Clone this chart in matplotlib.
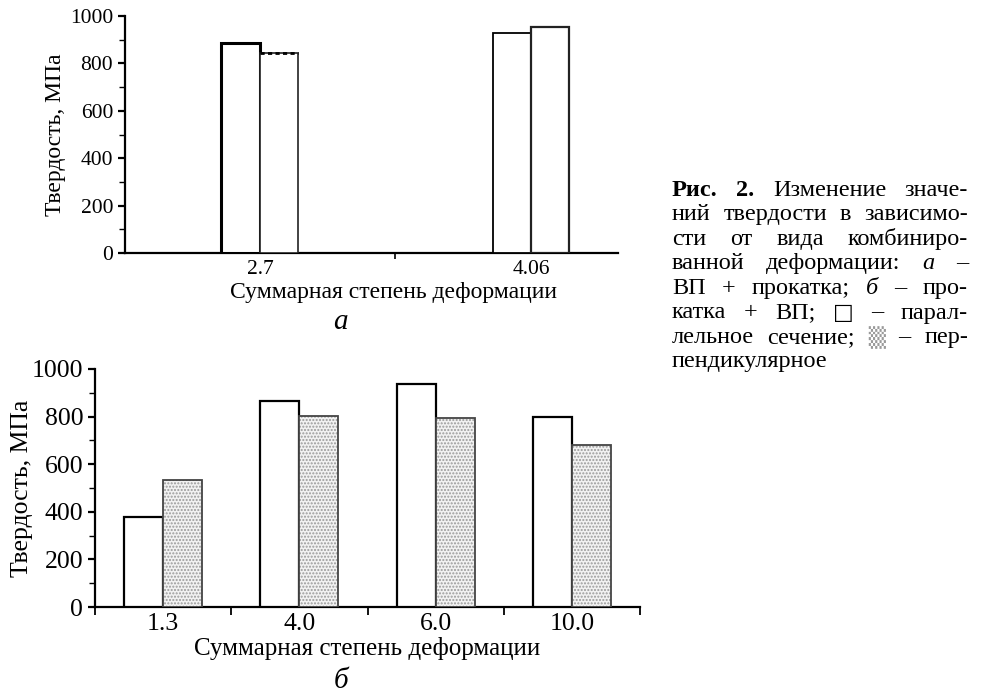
import matplotlib
matplotlib.use("Agg")
import matplotlib.pyplot as plt
import numpy as np
from matplotlib.ticker import MultipleLocator, FixedLocator

# ---- data -------------------------------------------------------------
cats_a = ["2.7", "4.06"]
par_a = [886, 928]          # parallel section, ВП + прокатка
perp_a = [844, 954]         # perpendicular section, ВП + прокатка

cats_b = ["1.3", "4.0", "6.0", "10.0"]
par_b = [378, 866, 937, 798]    # parallel section, прокатка + ВП
perp_b = [534, 803, 794, 681]   # perpendicular section, прокатка + ВП

ylabel = "Твердость, МПа"
xlabel = "Суммарная степень деформации"

W, H = 984, 693
SERIF = ["Liberation Serif", "DejaVu Serif"]
plt.rcParams["font.family"] = SERIF

fig = plt.figure(figsize=(W / 100, H / 100), dpi=100)


def px_axes(l, r, t, b):
    return fig.add_axes([l / W, 1 - b / H, (r - l) / W, (b - t) / H])


def style_axes(ax, lw):
    for s in ("top", "right"):
        ax.spines[s].set_visible(False)
    for s in ("left", "bottom"):
        ax.spines[s].set_linewidth(lw)
    ax.set_ylim(0, 1000)
    ax.yaxis.set_major_locator(MultipleLocator(200))
    ax.yaxis.set_minor_locator(MultipleLocator(100))
    ax.tick_params(axis="y", which="major", direction="out", length=5, width=lw)
    ax.tick_params(axis="y", which="minor", direction="out", length=4, width=1)


# ---- panel а ------------------------------------------------------------
ax1 = px_axes(125, 618, 16, 253)
style_axes(ax1, 1.6)
x1 = np.arange(len(cats_a))
bw1 = 0.142
ax1.bar(x1 - bw1 / 2, par_a, bw1, facecolor="white", edgecolor="black",
        linewidth=[2.2, 1.3], zorder=3)
perp_bars = ax1.bar(x1 + bw1 / 2, perp_a, bw1, facecolor="white",
                    edgecolor="#222222", linewidth=[1.2, 1.6], zorder=3)
# dotted top edge on the first perpendicular bar
p0 = perp_bars[0]
ax1.plot([p0.get_x(), p0.get_x() + p0.get_width()], [perp_a[0], perp_a[0]],
         color="black", lw=2.0, ls=(0, (1.5, 1.2)), zorder=4,
         solid_capstyle="butt")
ax1.set_xlim(-0.498, 1.321)
ax1.xaxis.set_major_locator(FixedLocator([0.5]))
ax1.xaxis.set_minor_locator(FixedLocator(x1))
ax1.set_xticklabels([""])
ax1.set_xticklabels(cats_a, minor=True)
ax1.tick_params(axis="x", which="major", direction="out", length=4, width=1.2)
ax1.tick_params(axis="x", which="minor", length=0, pad=5)
for lab in ax1.get_yticklabels() + ax1.get_xticklabels(minor=True):
    lab.set_fontsize(15.5)
fig.text(55 / W, 1 - 135 / H, ylabel, rotation=90, ha="center", va="center",
         fontsize=17)
fig.text(394 / W, 1 - 293 / H, xlabel, ha="center", va="center", fontsize=17)
fig.text(340 / W, 1 - 322 / H, "а", ha="center", va="center", fontsize=21,
         style="italic")

# ---- panel б ------------------------------------------------------------
ax2 = px_axes(95, 640, 369, 607)
style_axes(ax2, 1.6)
x2 = np.arange(len(cats_b))
bw2 = 0.287
ax2.bar(x2 - bw2 / 2, par_b, bw2, facecolor="white", edgecolor="black",
        linewidth=1.6, zorder=3)
ax2.bar(x2 + bw2 / 2, perp_b, bw2, facecolor="#f2f2f2", edgecolor="#9a9a9a",
        hatch=".....", linewidth=0, zorder=3)
ax2.bar(x2 + bw2 / 2, perp_b, bw2, fill=False, edgecolor="#444444",
        linewidth=1.3, zorder=4)
ax2.set_xlim(-0.5, 3.5)
ax2.xaxis.set_major_locator(FixedLocator(np.arange(-0.5, 3.6, 1.0)))
ax2.xaxis.set_minor_locator(FixedLocator(x2))
ax2.set_xticklabels([""] * 5)
ax2.set_xticklabels(cats_b, minor=True)
ax2.tick_params(axis="x", which="major", direction="out", length=6, width=1.3)
ax2.tick_params(axis="x", which="minor", length=0, pad=4)
for lab in ax2.get_yticklabels() + ax2.get_xticklabels(minor=True):
    lab.set_fontsize(18.5)
fig.text(22 / W, 1 - 488 / H, ylabel, rotation=90, ha="center", va="center",
         fontsize=18.5)
fig.text(367 / W, 1 - 648 / H, xlabel, ha="center", va="center", fontsize=18)
fig.text(341 / W, 1 - 681 / H, "б", ha="center", va="center", fontsize=21,
         style="italic")

# ---- figure caption (justified block) ------------------------------------
CAP_FS = 17.5
cap_lines = [
    [("Рис.", "b"), ("2.", "b"), ("Изменение", ""), ("значе-", "")],
    [("ний", ""), ("твердости", ""), ("в", ""), ("зависимо-", "")],
    [("сти", ""), ("от", ""), ("вида", ""), ("комбиниро-", "")],
    [("ванной", ""), ("деформации:", ""), ("а", "i"), ("–", "")],
    [("ВП", ""), ("+", ""), ("прокатка;", ""), ("б", "i"), ("–", ""), ("про-", "")],
    [("катка", ""), ("+", ""), ("ВП;", ""), ("□", "s"), ("–", ""), ("парал-", "")],
    [("лельное", ""), ("сечение;", ""), ("▒", "g"), ("–", ""), ("пер-", "")],
    [("пендикулярное", "")],
]
cap_left, cap_right = 672, 968
cap_top, cap_step = 196, 24.5

renderer = fig.canvas.get_renderer()


def word_kw(kind):
    kw = dict(fontsize=CAP_FS, family=SERIF)
    if kind == "b":
        kw["weight"] = "bold"
    elif kind == "i":
        kw["style"] = "italic"
    elif kind == "s":
        kw["family"] = ["DejaVu Sans"]
        kw["fontsize"] = CAP_FS * 0.9
    elif kind == "g":
        kw["family"] = ["DejaVu Sans"]
        kw["color"] = "#9a9a9a"
        kw["fontsize"] = CAP_FS * 0.9
    return kw


for i, line in enumerate(cap_lines):
    yb = cap_top + i * cap_step
    widths = []
    for word, kind in line:
        t = fig.text(0, 0, word, **word_kw(kind))
        widths.append(t.get_window_extent(renderer).width)
        t.remove()
    if len(line) > 1 and i < len(cap_lines) - 1:
        gap = (cap_right - cap_left - sum(widths)) / (len(line) - 1)
    else:
        gap = 5.0
    x = cap_left
    for (word, kind), w in zip(line, widths):
        fig.text(x / W, 1 - yb / H, word, ha="left", va="baseline",
                 **word_kw(kind))
        x += w + gap

fig.savefig("out.png", dpi=100)
